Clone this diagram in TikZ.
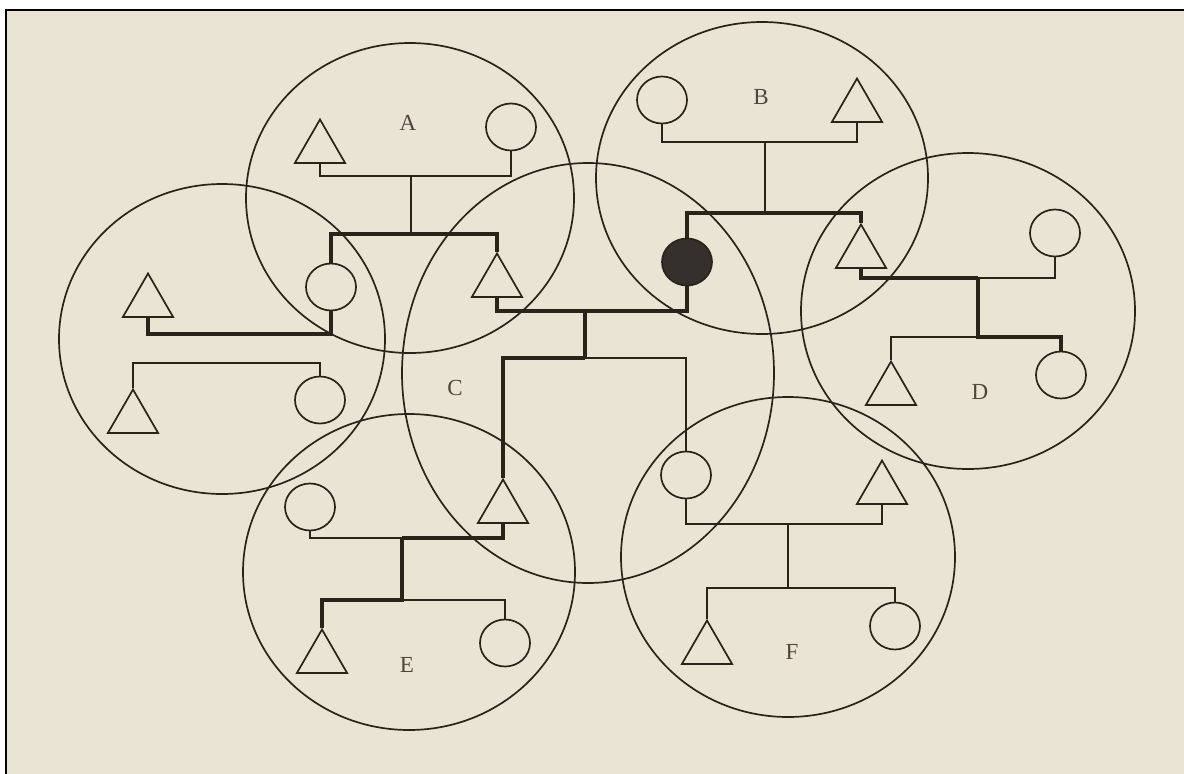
\documentclass[tikz,border=0pt]{standalone}
\usepackage{fontspec}
\setmainfont{Liberation Serif}
\usetikzlibrary{shapes.geometric}
\definecolor{paper}{HTML}{EAE4D5}
\definecolor{ink}{HTML}{2A2319}
\definecolor{labelink}{HTML}{4E463A}
\definecolor{dotfill}{HTML}{35302B}
\tikzset{
  big/.style={draw=ink, line width=1.7pt},
  thinl/.style={draw=ink, line width=1.8pt, line join=miter},
  thickl/.style={draw=ink, line width=4.2pt, line join=miter},
  male/.style={regular polygon, regular polygon sides=3, draw=ink, line width=1.7pt,
    minimum size=58pt, inner sep=0pt},
  female/.style={ellipse, draw=ink, line width=1.7pt, minimum width=50pt,
    minimum height=47pt, inner sep=0pt},
  ego/.style={female, fill=dotfill},
  lab/.style={text=labelink, font=\fontsize{23}{23}\selectfont, inner sep=0pt}
}
\begin{document}
\begin{tikzpicture}[x=1pt,y=-1pt]
\useasboundingbox (0,0) rectangle (1184,774);
\fill[white] (0,0) rectangle (1184,774);
\fill[paper] (6,10) rectangle (1184,774);
\draw[black, line width=2pt] (6,774) -- (6,10) -- (1184,10);

% large circles
\draw[big] (410,198) ellipse [x radius=164, y radius=155];
\draw[big] (762,178) ellipse [x radius=166, y radius=156];
\draw[big] (222,339) ellipse [x radius=163, y radius=155];
\draw[big] (588,373) ellipse [x radius=186, y radius=210];
\draw[big] (968,311) ellipse [x radius=167, y radius=158];
\draw[big] (409,572) ellipse [x radius=166, y radius=158];
\draw[big] (788,557) ellipse [x radius=167, y radius=160];

% labels
\node[lab] (labA) at (408,123) {A};
\node[lab] (labB) at (761,97) {B};
\node[lab] (labC) at (455,388) {C};
\node[lab] (labD) at (980,392) {D};
\node[lab] (labE) at (407,665) {E};
\node[lab] (labF) at (792,652) {F};

% persons
\node[male] (tA) at (320,148.5) {};
\node[female] (cA) at (511,127) {};
\node[female] (gA) at (331,287) {};
\node[male] (tC1) at (497,282.5) {};
\node[male] (tG1) at (148,302.5) {};
\node[male] (tG2) at (133,418.5) {};
\node[female] (cG2) at (320,400) {};
\node[female] (cB) at (662,100) {};
\node[male] (tB) at (857,107.5) {};
\node[ego] (dot) at (687,262) {};
\node[male] (tD1) at (861,253.5) {};
\node[female] (cD1) at (1055,233) {};
\node[male] (tD2) at (891,390.5) {};
\node[female] (cD2) at (1061,375) {};
\node[male] (tC2) at (503,508.5) {};
\node[female] (cE1) at (310,507) {};
\node[male] (tE2) at (322,658.5) {};
\node[female] (cE2) at (505,643) {};
\node[female] (cF1) at (686,475) {};
\node[male] (tF1) at (882,489.5) {};
\node[male] (tF2) at (707,649.5) {};
\node[female] (cF2) at (895,626) {};

% junction points
\coordinate (aM) at (411,176);
\coordinate (aS) at (411,234);
\coordinate (gM) at (331,334);
\coordinate (gL) at (133,363);
\coordinate (bM) at (765,142);
\coordinate (bS) at (765,213);
\coordinate (cL) at (497,311);
\coordinate (cM) at (585,311);
\coordinate (cS) at (585,358);
\coordinate (dL) at (861,278);
\coordinate (dM) at (978,278);
\coordinate (dS) at (978,337);
\coordinate (eL) at (503,538);
\coordinate (eM) at (402,538);
\coordinate (eS) at (402,600);
\coordinate (fM) at (788,524);
\coordinate (fS) at (788,588);

% A
\draw[thinl] (tA.south) |- (aM) -| (cA.south);
\draw[thinl] (aM) -- (aS);
\draw[thickl] (gA.north) |- (aS) -| (tC1.north);
% left circle
\draw[thickl] (gA.south) -- (gM) -| (tG1.south);
\draw[thinl] (tG2.north) -- (gL) -| (cG2.north);
% B
\draw[thinl] (cB.south) |- (bM) -| (tB.south);
\draw[thinl] (bM) -- (bS);
\draw[thickl] (dot.north) |- (bS) -| (tD1.north);
% C
\draw[thickl] (tC1.south) -- (cL) -| (dot.south);
\draw[thickl] (cM) -- (cS);
\draw[thickl] (cS) -| (tC2.north);
\draw[thinl] (cS) -| (cF1.north);
% D
\draw[thickl] (tD1.south) -- (dL) -- (dM);
\draw[thinl] (dM) -| (cD1.south);
\draw[thickl] (dM) -- (dS) -| (cD2.north);
\draw[thinl] (dS) -| (tD2.north);
% E
\draw[thickl] (tC2.south) -- (eL) -- (eM);
\draw[thinl] (eM) -| (cE1.south);
\draw[thickl] (eM) -- (eS) -| (tE2.north);
\draw[thinl] (eS) -| (cE2.north);
% F
\draw[thinl] (cF1.south) |- (fM) -| (tF1.south);
\draw[thinl] (fM) -- (fS);
\draw[thinl] (tF2.north) |- (fS) -| (cF2.north);
\end{tikzpicture}
\end{document}
